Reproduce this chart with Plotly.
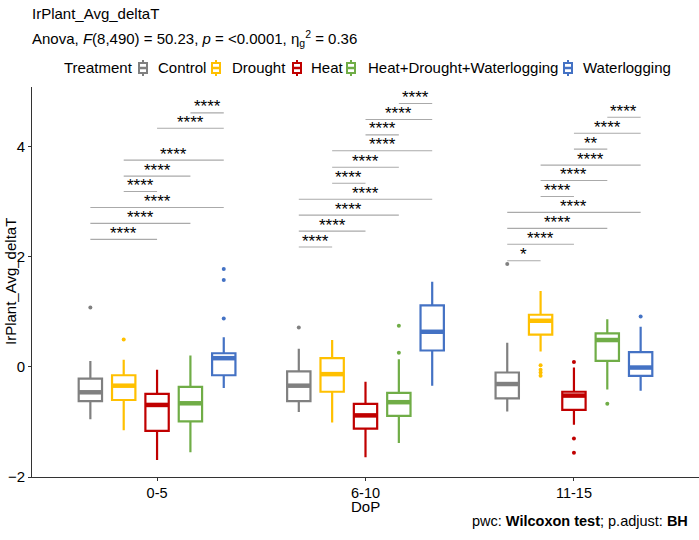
import plotly.graph_objects as go

# ---------------- data ----------------
DOP = ["0-5", "6-10", "11-15"]
TREATMENTS = ["Control", "Drought", "Heat", "Heat+Drought+Waterlogging", "Waterlogging"]
COLORS = ["#808080", "#FFC000", "#C00000", "#70AD47", "#4472C4"]

# box statistics per treatment, one value per DoP group
LOWER = {
    "Control": [-0.95, -0.82, -0.81],
    "Drought": [-1.15, -1.01, 0.28],
    "Heat": [-1.69, -1.64, -1.05],
    "Heat+Drought+Waterlogging": [-1.55, -1.38, -0.41],
    "Waterlogging": [-0.38, -0.34, -0.43],
}
Q1 = {
    "Control": [-0.62, -0.62, -0.57],
    "Drought": [-0.60, -0.45, 0.59],
    "Heat": [-1.16, -1.12, -0.78],
    "Heat+Drought+Waterlogging": [-0.99, -0.89, 0.11],
    "Waterlogging": [-0.15, 0.30, -0.16],
}
MEDIAN = {
    "Control": [-0.46, -0.34, -0.31],
    "Drought": [-0.34, -0.13, 0.84],
    "Heat": [-0.69, -0.88, -0.52],
    "Heat+Drought+Waterlogging": [-0.66, -0.64, 0.49],
    "Waterlogging": [0.16, 0.64, -0.01],
}
Q3 = {
    "Control": [-0.21, -0.08, -0.10],
    "Drought": [-0.15, 0.16, 0.95],
    "Heat": [-0.49, -0.67, -0.45],
    "Heat+Drought+Waterlogging": [-0.36, -0.47, 0.61],
    "Waterlogging": [0.25, 1.12, 0.27],
}
UPPER = {
    "Control": [0.11, 0.33, 0.44],
    "Drought": [0.13, 0.49, 1.38],
    "Heat": [-0.05, -0.27, -0.01],
    "Heat+Drought+Waterlogging": [0.21, 0.14, 0.87],
    "Waterlogging": [0.54, 1.55, 0.73],
}
# outliers: DoP group and value
OUTLIER_DOP = {
    "Control": ["0-5", "6-10", "11-15"],
    "Drought": ["0-5", "11-15", "11-15", "11-15", "11-15"],
    "Heat": ["11-15", "11-15", "11-15"],
    "Heat+Drought+Waterlogging": ["6-10", "6-10", "11-15"],
    "Waterlogging": ["0-5", "0-5", "0-5", "11-15"],
}
OUTLIER_VAL = {
    "Control": [1.08, 0.72, 1.87],
    "Drought": [0.50, 0.03, -0.05, -0.10, -0.16],
    "Heat": [0.09, -1.30, -1.56],
    "Heat+Drought+Waterlogging": [0.75, 0.26, -0.67],
    "Waterlogging": [1.78, 1.58, 0.88, 0.92],
}

# pairwise comparison brackets
BRACKET_DOP = (["0-5"] * 8) + (["6-10"] * 10) + (["11-15"] * 10)
BRACKET_FROM = [
    "Control", "Control", "Control", "Drought", "Drought", "Drought", "Heat", "Heat+Drought+Waterlogging",
    "Control", "Control", "Control", "Control", "Drought", "Drought", "Drought", "Heat", "Heat", "Heat+Drought+Waterlogging",
    "Control", "Control", "Control", "Control", "Drought", "Drought", "Drought", "Heat", "Heat", "Heat+Drought+Waterlogging",
]
BRACKET_TO = [
    "Heat", "Heat+Drought+Waterlogging", "Waterlogging", "Heat", "Heat+Drought+Waterlogging", "Waterlogging", "Waterlogging", "Waterlogging",
    "Drought", "Heat", "Heat+Drought+Waterlogging", "Waterlogging", "Heat", "Heat+Drought+Waterlogging", "Waterlogging", "Heat+Drought+Waterlogging", "Waterlogging", "Waterlogging",
    "Drought", "Heat", "Heat+Drought+Waterlogging", "Waterlogging", "Heat", "Heat+Drought+Waterlogging", "Waterlogging", "Heat+Drought+Waterlogging", "Waterlogging", "Waterlogging",
]
BRACKET_Y = [
    2.32, 2.61, 2.90, 3.19, 3.47, 3.76, 4.34, 4.62,
    2.18, 2.47, 2.76, 3.05, 3.34, 3.63, 3.93, 4.22, 4.50, 4.79,
    1.93, 2.23, 2.52, 2.81, 3.10, 3.39, 3.67, 3.96, 4.25, 4.54,
]
BRACKET_LABEL = [
    "****", "****", "****", "****", "****", "****", "****", "****",
    "****", "****", "****", "****", "****", "****", "****", "****", "****", "****",
    "*", "****", "****", "****", "****", "****", "****", "**", "****", "****",
]

Y_TICKS = [-2, 0, 2, 4]

# ---------------- layout helpers ----------------
DODGE = 0.16        # dodge step between treatments
BOX_W = 0.112       # box width in category units
FONT = "Liberation Sans, Arial, Helvetica, sans-serif"

FIG_W, FIG_H = 699, 540
PLOT_L, PLOT_R, PLOT_T, PLOT_B = 32, 699, 87, 477


def px2x(px):
    return (px - PLOT_L) / (PLOT_R - PLOT_L)


def py2y(py):
    return (PLOT_B - py) / (PLOT_B - PLOT_T)


def xpos(dop, treatment):
    g = DOP.index(dop)
    t = TREATMENTS.index(treatment)
    return g + (t - (len(TREATMENTS) - 1) / 2) * DODGE


fig = go.Figure()

for t, name in enumerate(TREATMENTS):
    col = COLORS[t]
    xs = [xpos(d, name) for d in DOP]
    fig.add_trace(go.Box(
        x=xs, q1=Q1[name], median=MEDIAN[name], q3=Q3[name],
        lowerfence=LOWER[name], upperfence=UPPER[name],
        width=BOX_W, name=name, legendgroup=name,
        line=dict(color=col, width=2.2), fillcolor="white",
        whiskerwidth=0, boxpoints=False, hoverinfo="skip", showlegend=False,
    ))
    # thicker median bars
    mx, my = [], []
    for d, m in zip(DOP, MEDIAN[name]):
        c = xpos(d, name)
        mx += [c - BOX_W / 2, c + BOX_W / 2, None]
        my += [m, m, None]
    fig.add_trace(go.Scatter(x=mx, y=my, mode="lines", line=dict(color=col, width=4.5),
                             showlegend=False, hoverinfo="skip"))
    # outliers
    fig.add_trace(go.Scatter(
        x=[xpos(d, name) for d in OUTLIER_DOP[name]], y=OUTLIER_VAL[name],
        mode="markers", marker=dict(color=col, size=4),
        showlegend=False, hoverinfo="skip",
    ))

# brackets
bx, by = [], []
for d, a, b, y in zip(BRACKET_DOP, BRACKET_FROM, BRACKET_TO, BRACKET_Y):
    bx += [xpos(d, a), xpos(d, b), None]
    by += [y, y, None]
fig.add_trace(go.Scatter(x=bx, y=by, mode="lines", line=dict(color="#aaaaaa", width=1.1),
                         showlegend=False, hoverinfo="skip"))

annotations = []
for d, a, b, y, lab in zip(BRACKET_DOP, BRACKET_FROM, BRACKET_TO, BRACKET_Y, BRACKET_LABEL):
    annotations.append(dict(
        x=(xpos(d, a) + xpos(d, b)) / 2, y=y, xref="x", yref="y",
        text=lab, showarrow=False, yanchor="bottom", yshift=-5.5,
        font=dict(size=17, color="black", family=FONT),
    ))

# titles and captions
annotations += [
    dict(text="IrPlant_Avg_deltaT", xref="paper", yref="paper", x=px2x(30), y=py2y(13),
         xanchor="left", yanchor="middle", showarrow=False, font=dict(size=15)),
    dict(text="Anova, <i>F</i>(8,490) = 50.23, <i>p</i> = &lt;0.0001, η<sub>g</sub><sup>2</sup> = 0.36",
         xref="paper", yref="paper", x=px2x(30), y=py2y(38),
         xanchor="left", yanchor="middle", showarrow=False, font=dict(size=15)),
    dict(text="IrPlant_Avg_deltaT", xref="paper", yref="paper", x=px2x(10), y=0.5,
         textangle=-90, xanchor="center", yanchor="middle", showarrow=False, font=dict(size=15)),
    dict(text="DoP", xref="paper", yref="paper", x=0.5, y=py2y(506),
         xanchor="center", yanchor="middle", showarrow=False, font=dict(size=15)),
    dict(text="pwc: <b>Wilcoxon test</b>; p.adjust: <b>BH</b>", xref="paper", yref="paper",
         x=px2x(690), y=py2y(521), xanchor="right", yanchor="middle", showarrow=False,
         font=dict(size=14.5)),
]

# legend (drawn as key + label, ggplot-style, in one row)
LEG_Y = 68
LEG_TITLE_X = 62
LEG_KEY_X = [143, 216, 297, 351, 568]
LEG_TEXT_X = [156, 230, 309, 366, 581]
annotations.append(dict(text="Treatment", xref="paper", yref="paper", x=px2x(LEG_TITLE_X),
                        y=py2y(LEG_Y), xanchor="left", yanchor="middle", showarrow=False,
                        font=dict(size=15)))
shapes = []
for t, name in enumerate(TREATMENTS):
    col = COLORS[t]
    kx = LEG_KEY_X[t]
    annotations.append(dict(text=name, xref="paper", yref="paper", x=px2x(LEG_TEXT_X[t]),
                            y=py2y(LEG_Y), xanchor="left", yanchor="middle", showarrow=False,
                            font=dict(size=15)))
    shapes.append(dict(type="line", xref="paper", yref="paper", x0=px2x(kx), x1=px2x(kx),
                       y0=py2y(LEG_Y - 8), y1=py2y(LEG_Y + 8), line=dict(color=col, width=2)))
    shapes.append(dict(type="rect", xref="paper", yref="paper", x0=px2x(kx - 4), x1=px2x(kx + 4),
                       y0=py2y(LEG_Y - 5), y1=py2y(LEG_Y + 5), line=dict(color=col, width=2),
                       fillcolor="white"))
    shapes.append(dict(type="line", xref="paper", yref="paper", x0=px2x(kx - 4), x1=px2x(kx + 4),
                       y0=py2y(LEG_Y), y1=py2y(LEG_Y), line=dict(color=col, width=2.5)))

fig.update_layout(
    width=FIG_W, height=FIG_H,
    margin=dict(l=PLOT_L, r=FIG_W - PLOT_R, t=PLOT_T, b=FIG_H - PLOT_B, autoexpand=False),
    paper_bgcolor="white", plot_bgcolor="white",
    font=dict(family=FONT, size=15, color="black"),
    showlegend=False,
    hovermode=False,
    annotations=annotations,
    shapes=shapes,
    xaxis=dict(range=[-0.6, 2.6], tickmode="array", tickvals=list(range(len(DOP))), ticktext=DOP,
               showgrid=False, zeroline=False, showline=True, linecolor="#333333", linewidth=1,
               ticks="outside", ticklen=3, tickcolor="#333333", tickfont=dict(size=14.5)),
    yaxis=dict(range=[-2.0, 5.09], tickmode="array", tickvals=Y_TICKS,
               showgrid=False, zeroline=False, showline=True, linecolor="#333333", linewidth=1,
               ticks="outside", ticklen=3, tickcolor="#333333", tickfont=dict(size=15)),
)

# remove the browser's default page margin so the figure sits at the window's corner
fig.write_html("out.html", config={"displayModeBar": False},
               post_script="document.body.style.margin='0px';")
